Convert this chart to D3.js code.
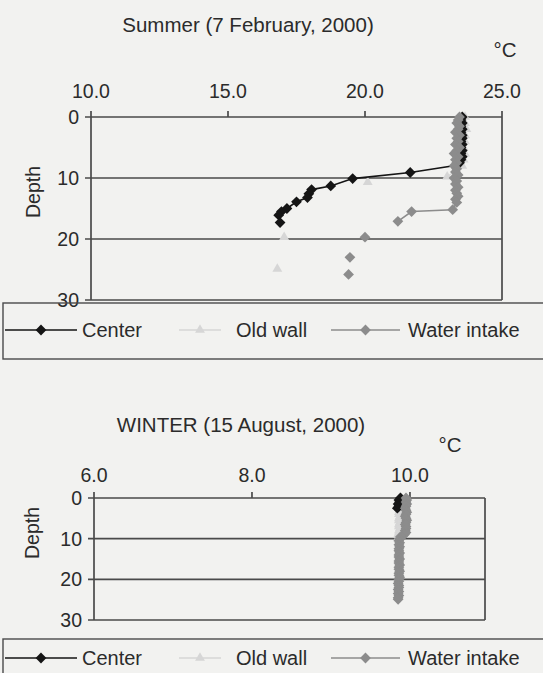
<!DOCTYPE html>
<html lang="en">
<head>
<meta charset="UTF-8">
<title>Temperature profiles</title>
<script src="https://d3js.org/d3.v7.min.js"></script>
<style>
    html, body {
        margin: 0;
        background: #f2f2f0;
    }
    svg {
        display: block;
        font-family: "Liberation Sans", Arial, sans-serif;
    }
    .frame {
        stroke: #4a4a4a;
        stroke-width: 1.7;
        fill: none;
    }
    .tick-label {
        font-size: 19.5px;
        fill: #2b2b2b;
    }
    .title, .unit {
        font-size: 20.5px;
        fill: #2b2b2b;
    }
    .legend-text {
        font-size: 20px;
        fill: #2b2b2b;
    }
</style>
</head>
<body>
<svg id="chart" width="543" height="673"></svg>

<script>
    // axis ticks
    var depthTicks = [0, 10, 20, 30];
    var summerTempTicks = [10, 15, 20, 25];
    var winterTempTicks = [6, 8, 10];

    // each point is [temperature (°C), depth]; null breaks the line
    var summerCenter = [
        [23.55, 0], [23.5, 0.5], [23.55, 1], [23.5, 1.5], [23.55, 2], [23.5, 2.5], [23.55, 3], [23.55, 3.5],
        [23.5, 4], [23.55, 4.5], [23.5, 5], [23.55, 5.5], [23.5, 6], [23.55, 6.5], [23.5, 7], [23.45, 7.5],
        [23.35, 7.9], [21.65, 9.1], [19.55, 10.1], [18.75, 11.3], [18.05, 11.9], [17.95, 12.6],
        [17.9, 13.2], [17.5, 13.9], [17.15, 15.0], [16.95, 15.5], [16.85, 16.1], [16.9, 17.3]
    ];
    var summerOldWall = [
        [23.65, 0], [23.65, 1], [23.7, 2], [23.65, 3], [23.65, 4], [23.6, 5], [23.65, 6], [23.6, 7],
        [23.55, 8], [23.0, 9.8], null, [20.1, 10.7], null, [17.05, 19.7], null, [16.8, 24.9]
    ];
    var summerWater = [
        [23.45, 0], [23.4, 0.5], [23.35, 1], [23.45, 1.5], [23.4, 2], [23.3, 2.5], [23.45, 3], [23.35, 3.5],
        [23.4, 4], [23.3, 4.5], [23.45, 5], [23.35, 5.5], [23.25, 6], [23.4, 6.5], [23.3, 7], [23.35, 7.5],
        [23.25, 8], [23.35, 8.5], [23.3, 9], [23.4, 9.5], [23.25, 10], [23.35, 10.5], [23.3, 11], [23.4, 11.5],
        [23.3, 12], [23.35, 12.5], [23.4, 13], [23.3, 13.5], [23.35, 14], [23.2, 15.2], [21.7, 15.5],
        [21.2, 17.1], null, [20.0, 19.7], null, [19.45, 23.0], null, [19.4, 25.8]
    ];

    var winterCenter = [
        [9.88, 0], [9.86, 0.5], [9.87, 1], [9.85, 1.5], [9.86, 2], [9.84, 2.5]
    ];
    var winterOldWall = [
        [9.87, 0], [9.86, 0.5], [9.87, 1], [9.86, 1.5], [9.87, 2], [9.86, 2.5], [9.87, 3], [9.86, 3.5],
        [9.86, 4], [9.87, 4.5], [9.86, 5], [9.86, 5.5], [9.87, 6], [9.86, 6.5], [9.86, 7], [9.87, 7.5],
        [9.86, 8], [9.86, 8.5], [9.85, 9], [9.86, 9.5], [9.85, 10]
    ];
    var winterWater = [
        [9.95, 0], [9.96, 0.5], [9.95, 1], [9.96, 1.5], [9.95, 2], [9.94, 2.5], [9.95, 3], [9.96, 3.5],
        [9.95, 4], [9.94, 4.5], [9.95, 5], [9.96, 5.5], [9.95, 6], [9.94, 6.5], [9.95, 7], [9.95, 7.5],
        [9.94, 8], [9.95, 8.5], [9.93, 9], [9.88, 9.5], [9.87, 10], [9.86, 10.5], [9.87, 11], [9.86, 11.5],
        [9.87, 12], [9.86, 12.5], [9.86, 13], [9.87, 13.5], [9.86, 14], [9.86, 14.5], [9.87, 15], [9.86, 15.5],
        [9.86, 16], [9.87, 16.5], [9.86, 17], [9.86, 17.5], [9.87, 18], [9.86, 18.5], [9.86, 19], [9.87, 19.5],
        [9.86, 20], [9.86, 20.5], [9.85, 21], [9.86, 21.5], [9.86, 22], [9.85, 22.5], [9.86, 23], [9.85, 23.5],
        [9.86, 24], [9.85, 24.5], [9.85, 24.9]
    ];

    var legendNames = ["Center", "Old wall", "Water intake"];

    var colors = {center: "#151515", oldWall: "#d6d6d6", water: "#8c8c8c"};

    var svg = d3.select("#chart");

    var panels = [
        {
            title: "Summer (7 February, 2000)", titleX: 248, titleY: 32, unitX: 505, unitY: 57,
            tempDomain: [10, 25], tempTicks: summerTempTicks,
            left: 91, right: 502, top: 117, bottom: 300,
            tickLabelY: 98, depthX: 40, depthY: 192,
            legendTop: 303, legendY: 337,
            center: summerCenter, oldWall: summerOldWall, water: summerWater
        },
        {
            title: "WINTER (15 August, 2000)", titleX: 241, titleY: 432, unitX: 450, unitY: 452,
            tempDomain: [6, 10.95], tempTicks: winterTempTicks,
            left: 94, right: 485, top: 498, bottom: 620,
            tickLabelY: 482, depthX: 39, depthY: 533,
            legendTop: 639, legendY: 665,
            center: winterCenter, oldWall: winterOldWall, water: winterWater
        }
    ];

    // rotated square = excel style diamond
    var diamond = d3.symbol().type(d3.symbolSquare).size(58);
    var triangle = d3.symbol().type(d3.symbolTriangle).size(42);

    panels.forEach(drawPanel);

    function drawPanel(p) {
        var x = d3.scaleLinear().domain(p.tempDomain).range([p.left, p.right]);
        var y = d3.scaleLinear().domain([0, 30]).range([p.top, p.bottom]);
        var g = svg.append("g");

        g.append("text").attr("class", "title")
            .attr("x", p.titleX).attr("y", p.titleY)
            .attr("text-anchor", "middle")
            .text(p.title);
        g.append("text").attr("class", "unit")
            .attr("x", p.unitX).attr("y", p.unitY)
            .attr("text-anchor", "middle")
            .text("°C");

        // horizontal lines at every depth tick (top one is the temperature axis)
        g.selectAll(".hline").data(depthTicks).join("line")
            .attr("class", "frame hline")
            .attr("x1", p.left - 6).attr("x2", p.right)
            .attr("y1", function(d) { return y(d); })
            .attr("y2", function(d) { return y(d); });

        // left axis and right border
        g.append("line").attr("class", "frame")
            .attr("x1", p.left).attr("x2", p.left)
            .attr("y1", p.top).attr("y2", p.bottom);
        g.append("line").attr("class", "frame")
            .attr("x1", p.right).attr("x2", p.right)
            .attr("y1", p.top).attr("y2", p.bottom);

        // temperature ticks on top
        g.selectAll(".vtick").data(p.tempTicks).join("line")
            .attr("class", "frame vtick")
            .attr("x1", function(d) { return x(d); })
            .attr("x2", function(d) { return x(d); })
            .attr("y1", p.top - 6).attr("y2", p.top);

        g.selectAll(".tlabel").data(p.tempTicks).join("text")
            .attr("class", "tick-label tlabel")
            .attr("x", function(d) { return x(d); })
            .attr("y", p.tickLabelY)
            .attr("text-anchor", "middle")
            .text(function(d) { return d.toFixed(1); });

        g.selectAll(".dlabel").data(depthTicks).join("text")
            .attr("class", "tick-label dlabel")
            .attr("x", p.left - 12)
            .attr("y", function(d) { return y(d) + 7; })
            .attr("text-anchor", "end")
            .text(function(d) { return d; });

        g.append("text").attr("class", "tick-label")
            .attr("transform", "translate(" + p.depthX + "," + p.depthY + ") rotate(-90)")
            .attr("text-anchor", "middle")
            .text("Depth");

        var line = d3.line()
            .defined(function(d) { return d !== null; })
            .x(function(d) { return x(d[0]); })
            .y(function(d) { return y(d[1]); });

        // series: old wall, center, water intake (water intake on top)
        drawSeries(g, p.oldWall, colors.oldWall, triangle, 0, line, x, y, 1.2);
        drawSeries(g, p.center, colors.center, diamond, 45, line, x, y, 1.6);
        drawSeries(g, p.water, colors.water, diamond, 45, line, x, y, 1.6);

        // legend
        g.append("rect")
            .attr("x", 3).attr("y", p.legendTop)
            .attr("width", 560).attr("height", 56)
            .attr("fill", "none").attr("stroke", "#4a4a4a").attr("stroke-width", 1.4);

        var items = [
            {name: legendNames[0], x1: 5, x2: 77, color: colors.center, sym: diamond, rot: 45, tx: 82},
            {name: legendNames[1], x1: 179, x2: 221, color: colors.oldWall, sym: triangle, rot: 0, tx: 236},
            {name: legendNames[2], x1: 331, x2: 400, color: colors.water, sym: diamond, rot: 45, tx: 408}
        ];
        var ly = p.legendY - 7;
        items.forEach(function(it) {
            g.append("line")
                .attr("x1", it.x1).attr("x2", it.x2)
                .attr("y1", ly).attr("y2", ly)
                .attr("stroke", it.color).attr("stroke-width", 1.6);
            g.append("path")
                .attr("d", it.sym)
                .attr("transform", "translate(" + ((it.x1 + it.x2) / 2) + "," + ly + ") rotate(" + it.rot + ")")
                .attr("fill", it.color);
            g.append("text").attr("class", "legend-text")
                .attr("x", it.tx).attr("y", p.legendY)
                .text(it.name);
        });
    }

    function drawSeries(g, data, color, sym, rot, line, x, y, w) {
        g.append("path")
            .datum(data)
            .attr("d", line)
            .attr("fill", "none")
            .attr("stroke", color)
            .attr("stroke-width", w);
        g.selectAll(null).data(data.filter(function(d) { return d !== null; })).join("path")
            .attr("d", sym)
            .attr("transform", function(d) {
                return "translate(" + x(d[0]) + "," + y(d[1]) + ") rotate(" + rot + ")";
            })
            .attr("fill", color);
    }
</script>
</body>
</html>
